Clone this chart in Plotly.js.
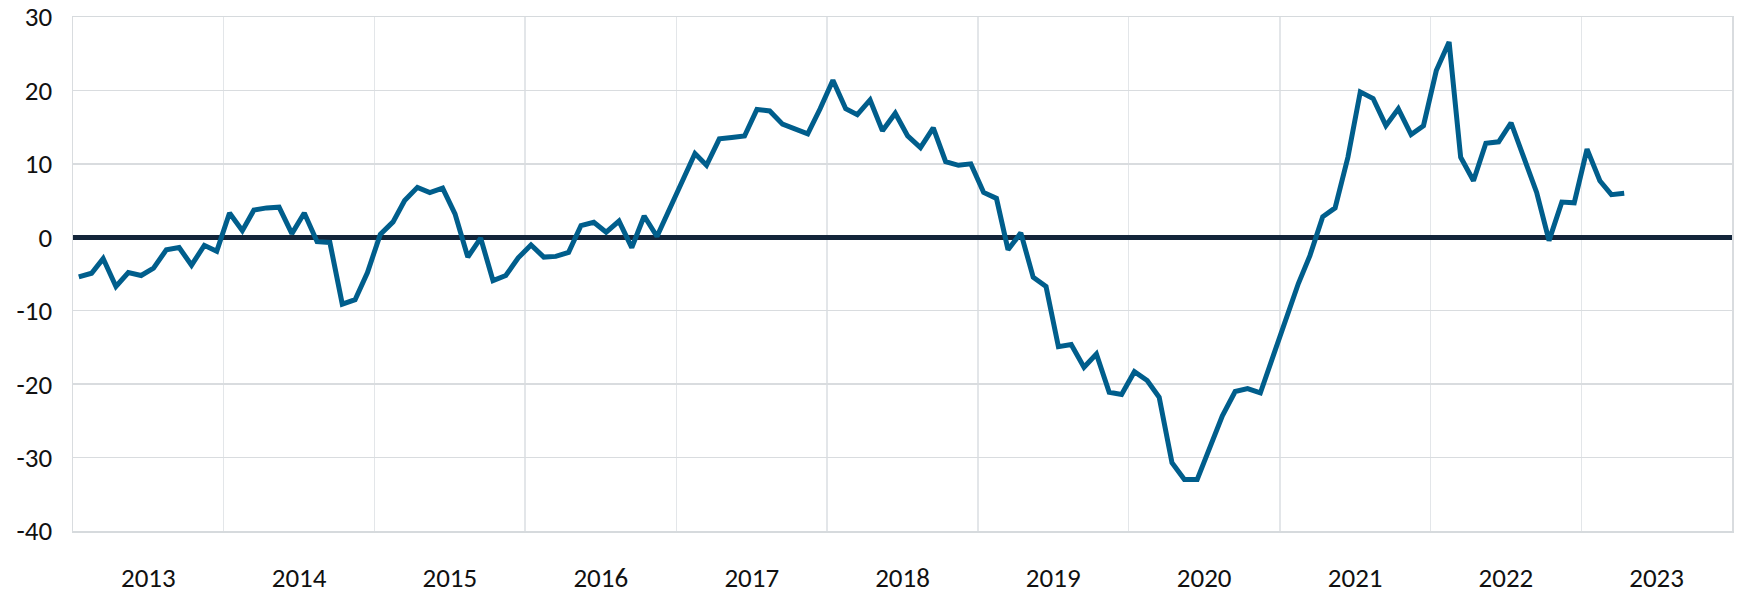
<!DOCTYPE html>
<html>
<head>
<meta charset="utf-8">
<script src="https://cdn.plot.ly/plotly-3.0.1.min.js"></script>
<style>
  html, body { margin: 0; padding: 0; background: #ffffff; }
  #chart { width: 1737px; height: 593px; }
</style>
</head>
<body>
<div id="chart"></div>
<script>
// Monthly values, January to December, per year
const years = [2013, 2014, 2015, 2016, 2017, 2018, 2019, 2020, 2021, 2022, 2023];
const v2013 = [-5.4, -4.9, -2.9, -6.7, -4.8, -5.2, -4.2, -1.7, -1.4, -3.8, -1.1, -1.9];
const v2014 = [3.3, 0.9, 3.7, 4.0, 4.1, 0.5, 3.3, -0.6, -0.7, -9.1, -8.5, -4.8];
const v2015 = [0.4, 2.1, 5.0, 6.8, 6.1, 6.7, 3.2, -2.7, -0.1, -5.9, -5.2, -2.8];
const v2016 = [-1.05, -2.7, -2.6, -2.05, 1.6, 2.05, 0.7, 2.2, -1.4, 2.9, 0.1, 3.9];
const v2017 = [7.6, 11.4, 9.8, 13.4, 13.6, 13.8, 17.4, 17.2, 15.4, 14.8, 14.1, 17.5];
const v2018 = [21.4, 17.5, 16.7, 18.7, 14.5, 16.9, 13.8, 12.2, 14.9, 10.3, 9.8, 10.0];
const v2019 = [6.1, 5.3, -1.7, 0.6, -5.45, -6.7, -14.9, -14.6, -17.7, -15.9, -21.1, -21.4];
const v2020 = [-18.3, -19.5, -21.8, -30.7, -33.0, -33.0, -28.6, -24.3, -21.0, -20.6, -21.2, -16.2];
const v2021 = [-11.3, -6.3, -2.5, 2.8, 4.0, 10.9, 19.8, 18.9, 15.2, 17.5, 14.0, 15.2];
const v2022 = [22.7, 26.6, 10.9, 7.7, 12.8, 13.0, 15.6, 10.9, 6.1, -0.45, 4.8, 4.7];
const v2023 = [12.0, 7.7, 5.8, 6.0];
const yearValues = [v2013, v2014, v2015, v2016, v2017, v2018, v2019, v2020, v2021, v2022, v2023];
const yTicks = [-40, -30, -20, -10, 0, 10, 20, 30];

// Build the monthly date axis (mid-month positions) from the per-year arrays
const xs = [];
const ys = [];
years.forEach((yr, k) => {
  yearValues[k].forEach((val, m) => {
    const mm = String(m + 1).padStart(2, '0');
    xs.push(`${yr}-${mm}-15`);
    ys.push(val);
  });
});

const trace = {
  x: xs,
  y: ys,
  type: 'scatter',
  mode: 'lines',
  line: { color: '#005E8C', width: 5 },
  hoverinfo: 'x+y'
};

const fontFam = 'Carlito, Calibri, "Open Sans", "Liberation Sans", sans-serif';

const layout = {
  width: 1737,
  height: 593,
  margin: { l: 73, r: 5, t: 17, b: 62 },
  paper_bgcolor: '#ffffff',
  plot_bgcolor: '#ffffff',
  showlegend: false,
  font: { family: fontFam, size: 27, color: '#111111' },
  xaxis: {
    type: 'date',
    range: ['2013-01-01', '2024-01-01'],
    tick0: '2013-01-01',
    dtick: 'M12',
    tickformat: '%Y',
    ticklabelmode: 'period',
    ticks: '',
    showgrid: true,
    gridcolor: '#e3e6e9',
    gridwidth: 1.5,
    showline: true,
    linecolor: '#d6dadd',
    linewidth: 1.5,
    mirror: true,
    zeroline: false,
    ticklabelstandoff: 22,
    tickfont: { family: fontFam, size: 27, color: '#111111' }
  },
  yaxis: {
    range: [-40, 30],
    tickvals: yTicks,
    ticktext: yTicks.map(String),
    ticks: '',
    showgrid: true,
    gridcolor: '#d9dcdf',
    gridwidth: 1.5,
    showline: true,
    linecolor: '#d9dcdf',
    linewidth: 1.5,
    mirror: true,
    zeroline: true,
    zerolinecolor: '#13253A',
    zerolinewidth: 4.5,
    ticklabelstandoff: 14,
    tickfont: { family: fontFam, size: 27, color: '#111111' }
  }
};

Plotly.newPlot('chart', [trace], layout, { displayModeBar: false, staticPlot: true });
</script>
</body>
</html>
